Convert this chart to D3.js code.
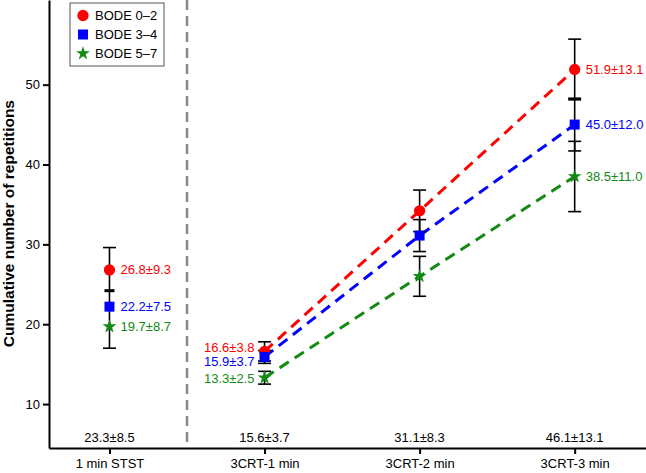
<!DOCTYPE html>
<html lang="en">
<head>
<meta charset="UTF-8">
<title>Cumulative repetitions by BODE group</title>
<script src="https://d3js.org/d3.v7.min.js"></script>
<style>
  body { margin: 0; background: #fff; font-family: "Liberation Sans", Arial, sans-serif; }
</style>
</head>
<body>
<div id="chart"></div>
<script>
// data
const categories = ["1 min STST", "3CRT-1 min", "3CRT-2 min", "3CRT-3 min"];
const overallLabels = ["23.3±8.5", "15.6±3.7", "31.1±8.3", "46.1±13.1"];
const groups = ["BODE 0–2", "BODE 3–4", "BODE 5–7"];
const colors = ["#ff0000", "#0000ff", "#138a13"];
const symbols = [d3.symbolCircle, d3.symbolSquare, d3.symbolStar];

const meansBode02 = [26.8, 16.6, 34.2, 51.9];
const meansBode34 = [22.2, 15.9, 31.1, 45.0];
const meansBode57 = [19.7, 13.3, 26.0, 38.5];

const labelsBode02 = ["26.8±9.3", "16.6±3.8", "", "51.9±13.1"];
const labelsBode34 = ["22.2±7.5", "15.9±3.7", "", "45.0±12.0"];
const labelsBode57 = ["19.7±8.7", "13.3±2.5", "", "38.5±11.0"];

// half-lengths of the drawn error bars (3CRT columns only)
const errBode02 = [null, 1.2, 2.6, 3.8];
const errBode34 = [null, 0.8, 2.0, 3.3];
const errBode57 = [null, 0.8, 2.5, 4.4];

// overall bar for 1 min STST
const ststLow = 17.0, ststHigh = 29.6, ststMark = 24.2;

const yTicks = [10, 20, 30, 40, 50];

const series = [
  { name: groups[0], means: meansBode02, labels: labelsBode02, err: errBode02 },
  { name: groups[1], means: meansBode34, labels: labelsBode34, err: errBode34 },
  { name: groups[2], means: meansBode57, labels: labelsBode57, err: errBode57 }
];

const W = 646, H = 473;
const margin = { left: 49, top: 0, right: 0, bottom: 25 };
const fs = 13;

const svg = d3.select("#chart").append("svg")
  .attr("width", W).attr("height", H)
  .style("font-family", "'Liberation Sans', Arial, sans-serif");

const x = d3.scaleLinear().domain([-0.39, 3.46]).range([margin.left, W - margin.right]);
const y = d3.scaleLinear().domain([4.5, 60.6]).range([H - margin.bottom, margin.top]);

// dashed separator between STST and 3CRT
svg.append("line")
  .attr("x1", x(0.5)).attr("x2", x(0.5))
  .attr("y1", y(60.6)).attr("y2", y(4.5))
  .attr("stroke", "#8a8a8a").attr("stroke-width", 2.5)
  .attr("stroke-dasharray", "10,6");

// y axis
const yAxis = svg.append("g")
  .attr("transform", `translate(${margin.left},0)`)
  .call(d3.axisLeft(y).tickValues(yTicks).tickSize(6).tickSizeOuter(0).tickPadding(3));
yAxis.select(".domain").attr("stroke-width", 2);
yAxis.selectAll(".tick line").attr("stroke-width", 2);
yAxis.selectAll("text").attr("font-size", fs).attr("fill", "#000");

// x axis
const xAxis = svg.append("g")
  .attr("transform", `translate(0,${y(4.5)})`)
  .call(d3.axisBottom(x).tickValues(d3.range(categories.length))
    .tickFormat(i => categories[i]).tickSize(6).tickSizeOuter(0).tickPadding(5));
xAxis.select(".domain").attr("stroke-width", 2);
xAxis.selectAll(".tick line").attr("stroke-width", 2);
xAxis.selectAll("text").attr("font-size", fs).attr("fill", "#000");

// y label
svg.append("text")
  .attr("transform", `translate(10,${y(32.6)}) rotate(-90)`)
  .attr("text-anchor", "middle")
  .attr("dominant-baseline", "middle")
  .attr("font-size", 15.5).attr("font-weight", "bold")
  .text("Cumulative number of repetitions");

// overall values above x axis
svg.append("g").selectAll("text")
  .data(overallLabels)
  .join("text")
  .attr("x", (d, i) => x(i))
  .attr("y", y(4.5) - 6)
  .attr("text-anchor", "middle")
  .attr("font-size", fs)
  .text(d => d);

// dashed lines for 3CRT
const line = d3.line().x(d => x(d[0])).y(d => y(d[1]));
series.forEach((s, k) => {
  svg.append("path")
    .datum([1, 2, 3].map(i => [i, s.means[i]]))
    .attr("d", line)
    .attr("fill", "none")
    .attr("stroke", colors[k])
    .attr("stroke-width", 3)
    .attr("stroke-dasharray", "11,7");
});

// error bars
function errorBar(cx, lo, hi) {
  const g = svg.append("g").attr("stroke", "#000").attr("stroke-width", 1.6);
  g.append("line").attr("x1", x(cx)).attr("x2", x(cx)).attr("y1", y(lo)).attr("y2", y(hi));
  [lo, hi].forEach(v => g.append("line")
    .attr("x1", x(cx) - 6.5).attr("x2", x(cx) + 6.5)
    .attr("y1", y(v)).attr("y2", y(v)));
}
errorBar(0, ststLow, ststHigh);
series.forEach(s => {
  s.err.forEach((e, i) => { if (e != null) errorBar(i, s.means[i] - e, s.means[i] + e); });
});

// markers
const sizes = [100, 100, 60];
series.forEach((s, k) => {
  svg.append("g").selectAll("path")
    .data(s.means)
    .join("path")
    .attr("transform", (d, i) => `translate(${x(i)},${y(d)})`)
    .attr("d", d3.symbol().type(symbols[k]).size(sizes[k]))
    .attr("fill", colors[k]);
});

// STST mean mark
svg.append("line")
  .attr("x1", x(0) - 5).attr("x2", x(0) + 5)
  .attr("y1", y(ststMark)).attr("y2", y(ststMark))
  .attr("stroke", "#000").attr("stroke-width", 3);

// value labels; at 3CRT-1 the red and blue labels are pushed apart
const nudge = [-4, 4, 1];
series.forEach((s, k) => {
  svg.append("g").selectAll("text")
    .data(s.labels.map((t, i) => ({ t, i })).filter(d => d.t))
    .join("text")
    .attr("x", d => d.i === 1 ? x(d.i) - 10 : x(d.i) + 11)
    .attr("y", d => y(s.means[d.i]) + (d.i === 1 ? nudge[k] : 0))
    .attr("dy", "0.35em")
    .attr("text-anchor", d => d.i === 1 ? "end" : "start")
    .attr("font-size", fs)
    .attr("fill", colors[k])
    .text(d => d.t);
});

// legend
const legend = svg.append("g").attr("transform", "translate(70,3)");
legend.append("rect")
  .attr("width", 94).attr("height", 63)
  .attr("fill", "#fff").attr("stroke", "#555").attr("stroke-width", 1);
groups.forEach((g, k) => {
  const row = legend.append("g").attr("transform", `translate(13,${12.5 + k * 19})`);
  row.append("path")
    .attr("d", d3.symbol().type(symbols[k]).size(sizes[k]))
    .attr("fill", colors[k]);
  row.append("text").attr("x", 12).attr("dy", "0.35em")
    .attr("font-size", fs).text(g);
});
</script>
</body>
</html>
